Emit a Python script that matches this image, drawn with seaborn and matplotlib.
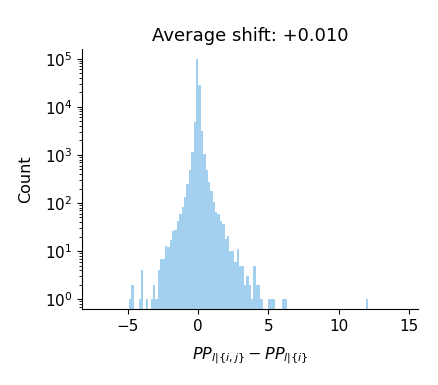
import numpy as np
import pandas as pd
import seaborn as sns
from matplotlib import pyplot as plt

# Histogram: 100 equal bins between x_min and x_max
x_min, x_max = -4.91, 12.10
n_bins = 100
counts = [1, 2, 0, 0, 1, 4, 0, 1, 0, 1,
          2, 1, 4, 7, 7, 13, 12, 17, 26, 28,
          42, 59, 83, 134, 247, 486, 1156, 4890, 101000, 28900,
          3170, 1050, 486, 273, 178, 104, 65, 59, 42, 36,
          18, 21, 10, 10, 6, 11, 5, 5, 2, 3,
          2, 1, 5, 2, 2, 1, 0, 0, 1, 1,
          1, 0, 0, 0, 1, 1, 0, 0, 0, 0,
          0, 0, 0, 0, 0, 0, 0, 0, 0, 0,
          0, 0, 0, 0, 0, 0, 0, 0, 0, 0,
          0, 0, 0, 0, 0, 0, 0, 0, 0, 1]
avg_shift = 0.010

edges = np.linspace(x_min, x_max, n_bins + 1)
centers = (edges[:-1] + edges[1:]) / 2
df = pd.DataFrame({'shift': centers, 'n': counts})

fig = plt.figure(figsize=(4.39, 3.85), dpi=100)
ax = fig.add_axes([0.187, 0.197, 0.765, 0.676])

sns.histplot(data=df, x='shift', weights='n', bins=n_bins,
             binrange=(x_min, x_max), ax=ax,
             color='#3498db', alpha=0.45, linewidth=0)
ax.set_yscale('log')
ax.set_xlim(-8.25, 15.65)
ax.set_ylim(0.62, 1.6e5)
ax.set_xticks([-5, 0, 5, 10, 15])
ax.tick_params(labelsize=11)
ax.set_xlabel(r'$PP_{l|\{i,j\}} - PP_{l|\{i\}}$', fontsize=11.5, labelpad=8)
ax.set_ylabel('Count', fontsize=11.5, labelpad=8)
ax.set_title(f'Average shift: {avg_shift:+.3f}', fontsize=13)
sns.despine(ax=ax)

fig.savefig('out.png', dpi=100)
